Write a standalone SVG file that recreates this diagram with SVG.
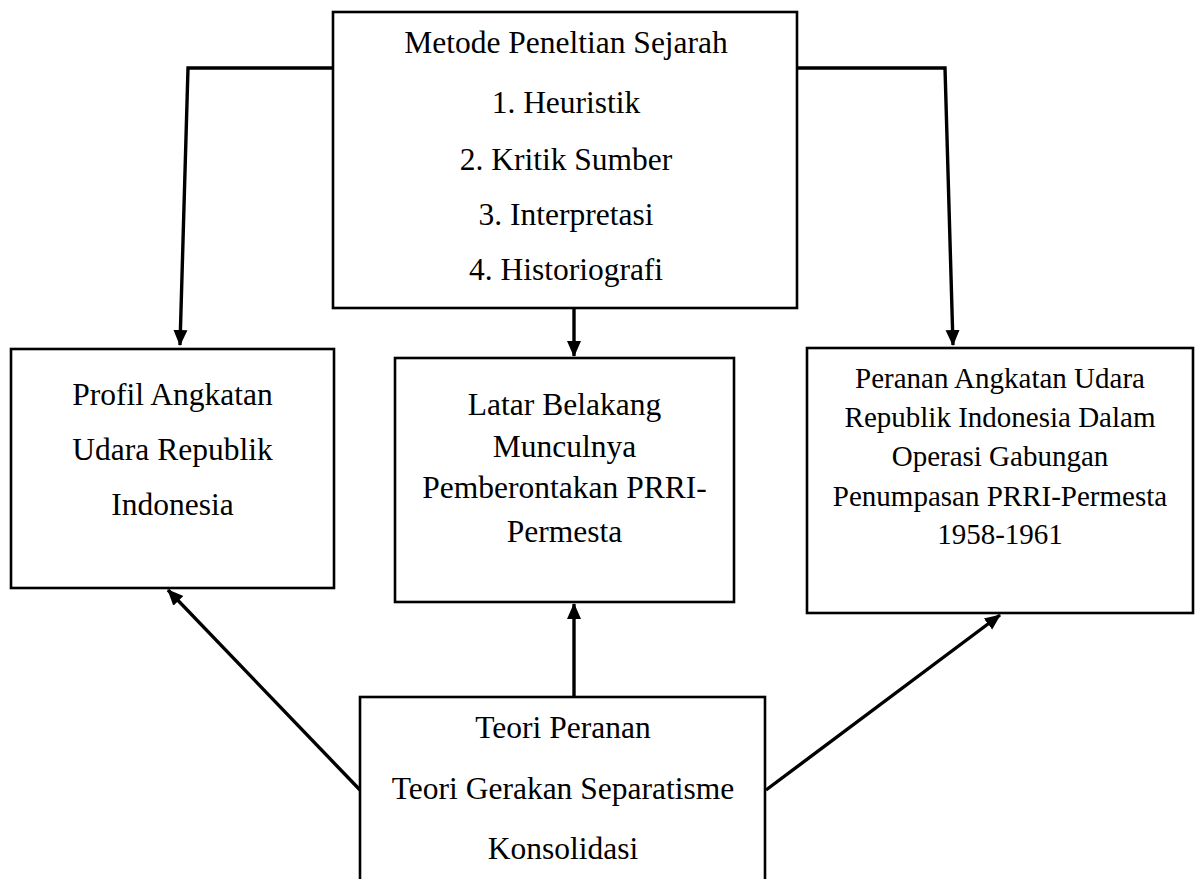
<svg xmlns="http://www.w3.org/2000/svg" width="1195" height="879" viewBox="0 0 1195 879">
<style>
.box{fill:#fff;stroke:#000;stroke-width:2.6}
.t{font-family:"Liberation Serif","Times New Roman",serif;font-size:31.5px;fill:#000;text-anchor:middle}
.s{font-size:29px}
.c{fill:none;stroke:#000;stroke-width:3.4;stroke-linejoin:miter}
</style>
<defs>
<marker id="ah" markerUnits="userSpaceOnUse" markerWidth="16" markerHeight="16" viewBox="0 0 16 16" refX="15" refY="8" orient="auto">
<path d="M0,1 L16,8 L0,15 Z" fill="#000"/>
</marker>
</defs>
<rect width="1195" height="879" fill="#fff"/>
<g id="connectors">
<path class="c" d="M333,68 L188,68 L180,345" marker-end="url(#ah)"/>
<path class="c" d="M797,68 L945,68 L953,345" marker-end="url(#ah)"/>
<path class="c" d="M574,308 L574,356" marker-end="url(#ah)"/>
<path class="c" d="M574,697 L574,604" marker-end="url(#ah)"/>
<path class="c" d="M360,790 L168,590" marker-end="url(#ah)"/>
<path class="c" d="M766,790 L1000,615" marker-end="url(#ah)"/>
</g>
<g id="node-metode">
<rect class="box" x="333" y="12" width="464" height="296"/>
<text class="t" x="566" y="53">Metode Peneltian Sejarah</text>
<text class="t" x="566" y="113">1. Heuristik</text>
<text class="t" x="566" y="170">2. Kritik Sumber</text>
<text class="t" x="566" y="225">3. Interpretasi</text>
<text class="t" x="566" y="280">4. Historiografi</text>
</g>
<g id="node-profil">
<rect class="box" x="11" y="349" width="323" height="239"/>
<text class="t" x="172.5" y="405">Profil Angkatan</text>
<text class="t" x="172.5" y="460">Udara Republik</text>
<text class="t" x="172.5" y="515">Indonesia</text>
</g>
<g id="node-latar">
<rect class="box" x="395" y="358" width="339" height="244"/>
<text class="t" x="564.5" y="415">Latar Belakang</text>
<text class="t" x="564.5" y="457">Munculnya</text>
<text class="t" x="564.5" y="498">Pemberontakan PRRI-</text>
<text class="t" x="564.5" y="542">Permesta</text>
</g>
<g id="node-peranan">
<rect class="box" x="807" y="348" width="386" height="265"/>
<text class="t s" x="1000" y="388">Peranan Angkatan Udara</text>
<text class="t s" x="1000" y="427">Republik Indonesia Dalam</text>
<text class="t s" x="1000" y="466">Operasi Gabungan</text>
<text class="t s" x="1000" y="506">Penumpasan PRRI-Permesta</text>
<text class="t s" x="1000" y="544">1958-1961</text>
</g>
<g id="node-teori">
<rect class="box" x="360" y="697" width="405" height="200"/>
<text class="t" x="563" y="738">Teori Peranan</text>
<text class="t" x="563" y="799">Teori Gerakan Separatisme</text>
<text class="t" x="563" y="859">Konsolidasi</text>
</g>
</svg>
